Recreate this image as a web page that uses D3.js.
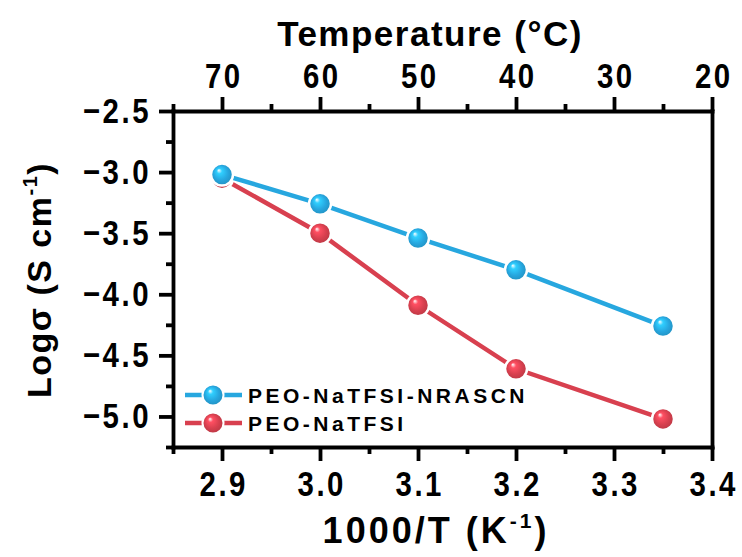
<!DOCTYPE html>
<html>
<head>
<meta charset="utf-8">
<script src="https://cdn.jsdelivr.net/npm/d3@7"></script>
<style>
  body { margin: 0; background: #fff; }
  svg text { font-family: "Liberation Sans", Arial, sans-serif; font-weight: bold; fill: #000; }
</style>
</head>
<body>
<svg id="chart" width="742" height="557"></svg>
<script>
// donnees
var invT = [2.9, 3.0, 3.1, 3.2, 3.35];
var logNRASCN = [-3.02, -3.26, -3.54, -3.80, -4.26];
var logNaTFSI = [-3.05, -3.50, -4.09, -4.61, -5.02];
var seriesNames = ["PEO-NaTFSI-NRASCN", "PEO-NaTFSI"];
var seriesColors = ["#27a7df", "#d8404f"];
var xTicks = [2.9, 3.0, 3.1, 3.2, 3.3, 3.4];
var xMinor = [2.85, 2.95, 3.05, 3.15, 3.25, 3.35];
var topLabels = ["70", "60", "50", "40", "30", "20"];
var yTicks = [-5.0, -4.5, -4.0, -3.5, -3.0, -2.5];
var yMinor = [-5.25, -4.75, -4.25, -3.75, -3.25, -2.75];

var svg = d3.select("#chart");
var m = {left: 173, right: 712, top: 111, bottom: 447};
var sx = 0.84; // police un peu condensee

var x = d3.scaleLinear().domain([2.85, 3.4]).range([m.left, m.right]);
var y = d3.scaleLinear().domain([-5.25, -2.5]).range([m.bottom, m.top]);

// degrade spherique pour les marqueurs
var defs = svg.append("defs");
seriesColors.forEach(function(c, i) {
  var g = defs.append("radialGradient").attr("id", "ball" + i)
    .attr("cx", "0.5").attr("cy", "0.5").attr("r", "0.55")
    .attr("fx", "0.35").attr("fy", "0.3");
  g.append("stop").attr("offset", "0").attr("stop-color", "#ffffff");
  g.append("stop").attr("offset", "0.22").attr("stop-color", d3.color(c).brighter(0.6));
  g.append("stop").attr("offset", "0.6").attr("stop-color", c);
  g.append("stop").attr("offset", "1").attr("stop-color", d3.color(c).darker(0.5));
});

// axes
function styleAxis(g) {
  g.selectAll("path, line").attr("stroke", "#000").attr("stroke-width", 3.8);
  g.select(".domain").attr("stroke-linecap", "square");
  g.selectAll("text").attr("font-size", 35).attr("letter-spacing", 3)
    .attr("transform", "scale(" + sx + ",1)");
}

var fmt = d3.format(".1f");

var gb = svg.append("g").attr("transform", "translate(0," + m.bottom + ")")
  .call(d3.axisBottom(x).tickValues(xTicks).tickFormat(fmt).tickSize(14).tickSizeOuter(0).tickPadding(10))
  .call(styleAxis);
gb.selectAll("text").attr("x", 1.5);
svg.append("g").attr("transform", "translate(0," + m.bottom + ")")
  .call(d3.axisBottom(x).tickValues(xMinor).tickFormat("").tickSize(7).tickSizeOuter(0))
  .call(styleAxis).select(".domain").remove();

var gt = svg.append("g").attr("transform", "translate(0," + m.top + ")")
  .call(d3.axisTop(x).tickValues(xTicks).tickFormat(function(d, i) { return topLabels[i]; }).tickSize(14).tickSizeOuter(0).tickPadding(9))
  .call(styleAxis);
gt.selectAll("text").attr("x", 1.5);
svg.append("g").attr("transform", "translate(0," + m.top + ")")
  .call(d3.axisTop(x).tickValues(xMinor).tickFormat("").tickSize(7).tickSizeOuter(0))
  .call(styleAxis).select(".domain").remove();

var gl = svg.append("g").attr("transform", "translate(" + m.left + ",0)")
  .call(d3.axisLeft(y).tickValues(yTicks).tickFormat(function(d) { return fmt(d).replace("-", "\u2212"); }).tickSize(14).tickSizeOuter(0).tickPadding(8))
  .call(styleAxis);
gl.selectAll("text").attr("x", -22 / sx);
svg.append("g").attr("transform", "translate(" + m.left + ",0)")
  .call(d3.axisLeft(y).tickValues(yMinor).tickFormat("").tickSize(7).tickSizeOuter(0))
  .call(styleAxis).select(".domain").remove();

svg.append("g").attr("transform", "translate(" + m.right + ",0)")
  .call(d3.axisRight(y).tickValues([]).tickSizeOuter(0))
  .call(styleAxis);

// titres
var xl = svg.append("text").attr("x", 436).attr("y", 543).attr("text-anchor", "middle")
  .attr("font-size", 36).attr("letter-spacing", 3).text("1000/T (K");
xl.append("tspan").attr("font-size", 21).attr("dy", -15).text("-1");
xl.append("tspan").attr("dy", 15).text(")");

svg.append("text").attr("x", 430).attr("y", 46).attr("text-anchor", "middle")
  .attr("font-size", 35).attr("letter-spacing", 1.5).text("Temperature (\u00b0C)");

var yl = svg.append("text").attr("transform", "translate(51,280) rotate(-90)")
  .attr("text-anchor", "middle").attr("font-size", 34).attr("letter-spacing", 1.5).text("Log\u03c3 (S cm");
yl.append("tspan").attr("font-size", 20).attr("dy", -14).text("-1");
yl.append("tspan").attr("dy", 14).text(")");

// series
var seriesData = [logNRASCN, logNaTFSI];
var line = d3.line().x(function(d) { return x(d[0]); }).y(function(d) { return y(d[1]); });

[1, 0].forEach(function(s) {
  var pts = invT.map(function(t, i) { return [t, seriesData[s][i]]; });
  svg.append("path").datum(pts).attr("d", line)
    .attr("fill", "none").attr("stroke", seriesColors[s]).attr("stroke-width", 4.5);
  svg.selectAll(".pt" + s).data(pts).enter().append("circle")
    .attr("cx", function(d) { return x(d[0]); })
    .attr("cy", function(d) { return y(d[1]); })
    .attr("r", 11)
    .attr("fill", "url(#ball" + s + ")")
    .attr("stroke", "#fff").attr("stroke-width", 2.5);
});

// legende
var leg = svg.append("g");
seriesNames.forEach(function(n, i) {
  var ly = 395 + i * 28;
  leg.append("line").attr("x1", 185).attr("x2", 242).attr("y1", ly).attr("y2", ly)
    .attr("stroke", seriesColors[i]).attr("stroke-width", 4.5);
  leg.append("circle").attr("cx", 213).attr("cy", ly).attr("r", 10.5)
    .attr("fill", "url(#ball" + i + ")").attr("stroke", "#fff").attr("stroke-width", 2);
  leg.append("text").attr("x", 248).attr("y", ly + 7.5).attr("font-size", 21)
    .attr("letter-spacing", 3.5).text(n);
});
</script>
</body>
</html>
